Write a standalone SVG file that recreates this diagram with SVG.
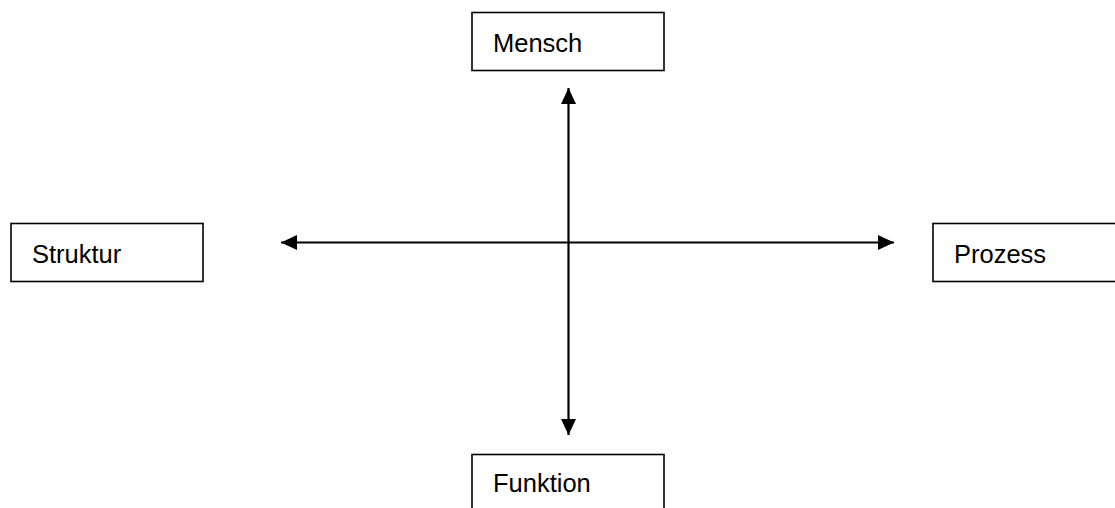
<svg xmlns="http://www.w3.org/2000/svg" width="1115" height="508" viewBox="0 0 1115 508">
<style>
.box{fill:#fff;stroke:#000;stroke-width:1.6}
.lbl{font-family:"Liberation Sans",Arial,sans-serif;font-size:25.5px;fill:#000}
.edge{stroke:#000;stroke-width:2.2;fill:none}
</style>
<defs>
<marker id="ah" viewBox="0 0 16 15" refX="16" refY="7.5" markerWidth="16" markerHeight="15" markerUnits="userSpaceOnUse" orient="auto-start-reverse">
<path d="M0,0 L16,7.5 L0,15 Z" fill="#000"/>
</marker>
</defs>
<rect width="1115" height="508" fill="#fff"/>
<g id="connectors">
<line class="edge" x1="568.5" y1="88" x2="568.5" y2="435" marker-start="url(#ah)" marker-end="url(#ah)"/>
<line class="edge" x1="281" y1="242.5" x2="894" y2="242.5" marker-start="url(#ah)" marker-end="url(#ah)"/>
</g>
<g id="mensch">
<rect class="box" x="472" y="12.5" width="192" height="58"/>
<text class="lbl" x="493" y="52">Mensch</text>
</g>
<g id="struktur">
<rect class="box" x="11" y="223.5" width="192" height="58"/>
<text class="lbl" x="32" y="263">Struktur</text>
</g>
<g id="prozess">
<rect class="box" x="933" y="223.5" width="200" height="58"/>
<text class="lbl" x="954" y="263">Prozess</text>
</g>
<g id="funktion">
<rect class="box" x="472" y="454.5" width="192" height="70"/>
<text class="lbl" x="493" y="492">Funktion</text>
</g>
</svg>
